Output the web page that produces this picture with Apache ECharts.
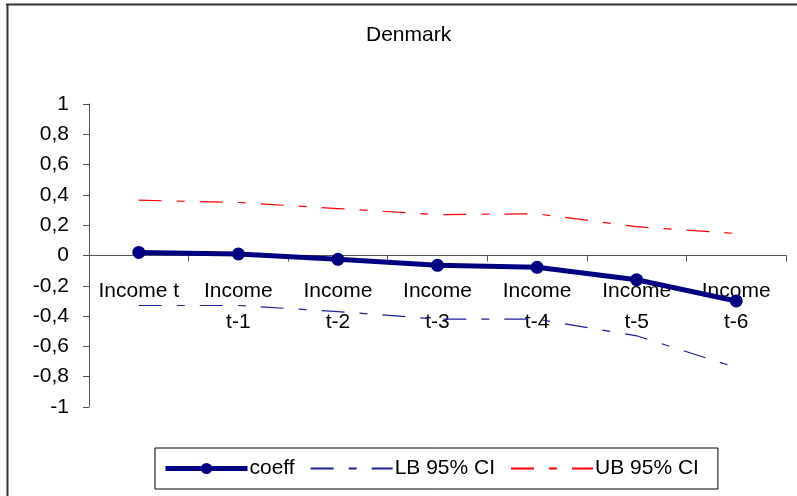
<!DOCTYPE html>
<html>
<head>
<meta charset="utf-8">
<script src="https://cdn.jsdelivr.net/npm/echarts@6/dist/echarts.min.js"></script>
<style>
html,body{margin:0;padding:0;background:#fff;}
#chart{width:797px;height:496px;}
</style>
</head>
<body>
<div id="chart"></div>
<script>
var categories = ['Income t', 'Income\nt-1', 'Income\nt-2', 'Income\nt-3', 'Income\nt-4', 'Income\nt-5', 'Income\nt-6'];
var coeff = [0.02, 0.01, -0.025, -0.065, -0.078, -0.16, -0.30];
var lb95 = [-0.33, -0.33, -0.37, -0.42, -0.42, -0.53, -0.74];
var ub95 = [0.365, 0.35, 0.31, 0.27, 0.275, 0.19, 0.145];
var yTicks = [-1, 1, 0.2];
var titleText = 'Denmark';

var chart = echarts.init(document.getElementById('chart'), null, {renderer: 'canvas'});
var font = 'Liberation Sans, Arial, sans-serif';
var dash = [23, 15, 8, 15];
chart.setOption({
  animation: false,
  backgroundColor: '#fff',
  textStyle: {fontFamily: font},
  title: {
    text: titleText,
    left: 361, top: 20,
    textStyle: {fontFamily: font, fontSize: 21, fontWeight: 'normal', color: '#000'}
  },
  graphic: [
    {type: 'line', shape: {x1: 6, y1: 4.5, x2: 797, y2: 4.5}, style: {stroke: '#333', lineWidth: 2}},
    {type: 'line', shape: {x1: 7.5, y1: 4, x2: 7.5, y2: 496}, style: {stroke: '#333', lineWidth: 2}}
  ],
  grid: {left: 89, right: 11, top: 104, bottom: 89, containLabel: false},
  legend: {
    left: 155, top: 448,
    padding: [10, 19, 10, 8],
    itemGap: 15,
    itemWidth: 82,
    itemHeight: 14,
    borderColor: '#000',
    borderWidth: 1,
    backgroundColor: '#fff',
    textStyle: {fontFamily: font, fontSize: 21, color: '#000', padding: [0, 0, 0, -3]},
    data: [
      {name: 'coeff', lineStyle: {width: 5}},
      {name: 'LB 95% CI', itemStyle: {opacity: 0}},
      {name: 'UB 95% CI', itemStyle: {opacity: 0}}
    ]
  },
  xAxis: {
    type: 'category',
    data: categories,
    boundaryGap: true,
    axisLine: {onZero: true, lineStyle: {color: '#555', width: 1}},
    axisTick: {show: true, alignWithLabel: false, length: 6, lineStyle: {color: '#555'}},
    axisLabel: {interval: 0, color: '#000', fontSize: 21, fontFamily: font, lineHeight: 31, margin: -131},
    splitLine: {show: false}
  },
  yAxis: {
    type: 'value',
    min: yTicks[0], max: yTicks[1], interval: yTicks[2],
    axisLine: {show: true, lineStyle: {color: '#555', width: 1}},
    axisTick: {show: true, length: 6, lineStyle: {color: '#555'}},
    axisLabel: {
      color: '#000', fontSize: 21, fontFamily: font, margin: 20,
      formatter: function (v) { return String(Math.round(v * 10) / 10).replace('.', ','); }
    },
    splitLine: {show: false}
  },
  series: [
    {
      name: 'coeff', type: 'line', data: coeff,
      symbol: 'circle', symbolSize: 13, z: 5,
      lineStyle: {color: '#000080', width: 5},
      itemStyle: {color: '#000080'}
    },
    {
      name: 'LB 95% CI', type: 'line', data: lb95,
      symbol: 'none', showSymbol: false,
      lineStyle: {color: '#1e1e9a', width: 1.2, type: dash},
      itemStyle: {color: '#1e1e9a'}
    },
    {
      name: 'UB 95% CI', type: 'line', data: ub95,
      symbol: 'none', showSymbol: false,
      lineStyle: {color: '#ff0000', width: 1.2, type: dash},
      itemStyle: {color: '#ff0000'}
    }
  ]
});
</script>
</body>
</html>
